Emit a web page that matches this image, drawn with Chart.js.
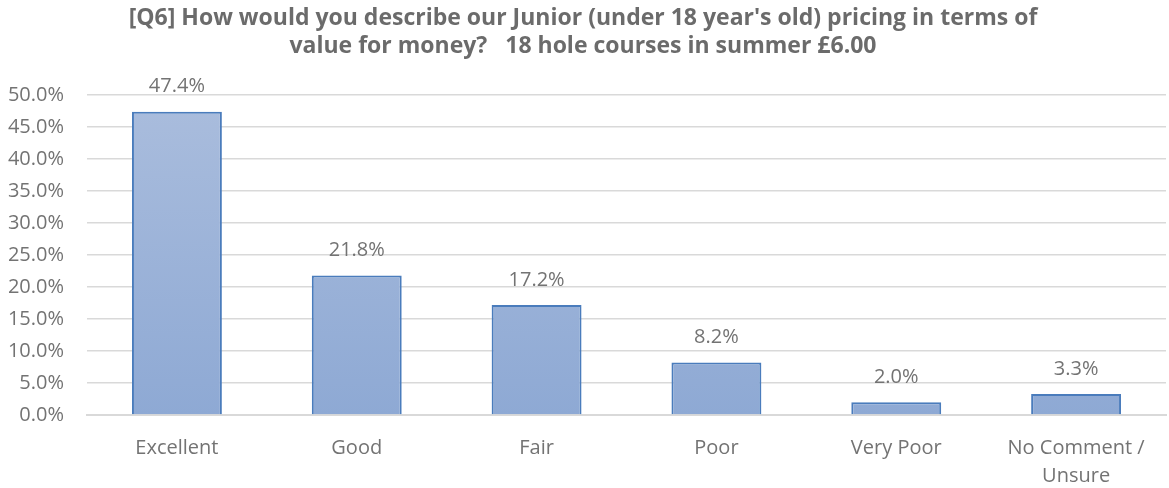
<!DOCTYPE html>
<html>
<head>
<meta charset="utf-8">
<script src="https://cdn.jsdelivr.net/npm/chart.js@4/dist/chart.umd.min.js"></script>
<style>
  html, body { margin: 0; padding: 0; background: #fff; }
</style>
</head>
<body>
<canvas id="chart" width="1169" height="488"></canvas>
<script>
const categories = ['Excellent', 'Good', 'Fair', 'Poor', 'Very Poor', ['No Comment /', 'Unsure']];
const values = [47.4, 21.8, 17.2, 8.2, 2.0, 3.3];
const titleLines = [
  "[Q6] How would you describe our Junior (under 18 year's old) pricing in terms of",
  "value for money?   18 hole courses in summer £6.00"
];

const grey = '#737373';

// labels above each bar
const valueLabels = {
  id: 'valueLabels',
  afterDatasetsDraw(chart) {
    const ctx = chart.ctx;
    const meta = chart.getDatasetMeta(0);
    ctx.save();
    ctx.font = '20px "Open Sans"';
    ctx.fillStyle = grey;
    ctx.textAlign = 'center';
    ctx.textBaseline = 'middle';
    meta.data.forEach((bar, i) => {
      ctx.fillText(values[i].toFixed(1) + '%', bar.x, bar.y - 25);
    });
    ctx.restore();
  }
};

function barFill(context) {
  const chart = context.chart;
  const area = chart.chartArea;
  if (!area) return '#9db3d9';
  const el = context.element;
  const top = el && el.y != null ? el.y : area.top;
  const g = chart.ctx.createLinearGradient(0, top, 0, area.bottom);
  g.addColorStop(0, '#aabddd');
  g.addColorStop(1, '#8ea9d4');
  return g;
}

new Chart(document.getElementById('chart'), {
  type: 'bar',
  data: {
    labels: categories,
    datasets: [{
      data: values,
      backgroundColor: barFill,
      borderColor: '#4a7cbc',
      borderWidth: 2,
      barPercentage: 0.5,
      categoryPercentage: 1.0
    }]
  },
  options: {
    responsive: false,
    animation: false,
    devicePixelRatio: 1,
    layout: { padding: { top: 4, right: 3, left: 0, bottom: 0 } },
    plugins: {
      legend: { display: false },
      tooltip: { enabled: false },
      title: {
        display: true,
        text: titleLines,
        color: '#6b6b6b',
        font: { family: '"Open Sans"', size: 23, weight: 'bold', lineHeight: 1.22 },
        padding: { top: 0, bottom: 35 }
      }
    },
    scales: {
      x: {
        grid: { display: false, drawTicks: false },
        border: { color: '#d9d9d9', width: 2 },
        afterFit(scale) { scale.height = 73; },
        ticks: {
          color: grey,
          font: { family: '"Open Sans"', size: 20, lineHeight: 1.4 },
          padding: 19,
          maxRotation: 0,
          autoSkip: false
        }
      },
      y: {
        min: 0,
        max: 50,
        grid: { color: '#d9d9d9', lineWidth: 1.5, drawTicks: false },
        border: { display: false },
        afterFit(scale) { scale.width = 87; },
        ticks: {
          stepSize: 5,
          color: grey,
          font: { family: '"Open Sans"', size: 20 },
          padding: 23,
          callback: v => v.toFixed(1) + '%'
        }
      }
    }
  },
  plugins: [valueLabels]
});
</script>
</body>
</html>
